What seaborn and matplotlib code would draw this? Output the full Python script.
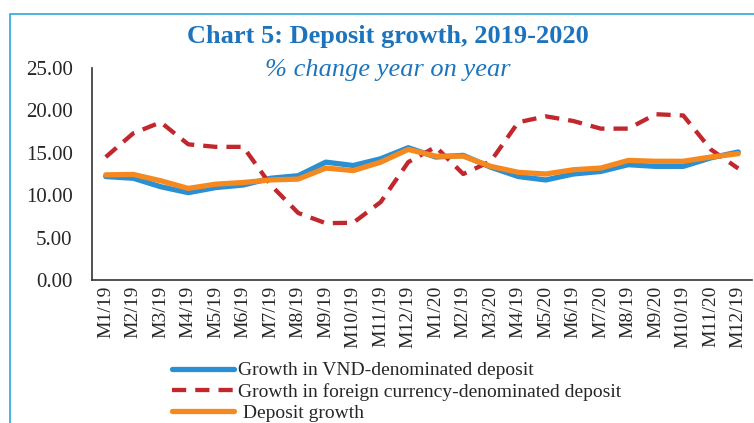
#!/usr/bin/env python3
import numpy as np
import pandas as pd
import seaborn as sns
import matplotlib.pyplot as plt
from matplotlib.patches import Rectangle
from matplotlib.ticker import FixedLocator

# month labels as printed on the source chart (including its typos)
months = ["M1/19", "M2/19", "M3/19", "M4/19", "M5/19", "M6/19", "M7/19", "M8/19",
          "M9/19", "M10/19", "M11/19", "M12/19", "M1/20", "M2/19", "M3/20", "M4/19",
          "M5/20", "M6/19", "M7/20", "M8/19", "M9/20", "M10/19", "M11/20", "M12/19"]

vnd_growth = [12.2, 12.0, 11.0, 10.3, 10.9, 11.2, 12.0, 12.3, 13.9, 13.5, 14.3, 15.6,
              14.5, 14.7, 13.3, 12.2, 11.8, 12.5, 12.8, 13.6, 13.4, 13.4, 14.4, 15.1]
fx_growth = [14.5, 17.3, 18.6, 16.0, 15.7, 15.7, 11.2, 7.9, 6.7, 6.75, 9.2, 13.9,
             15.7, 12.5, 14.0, 18.6, 19.3, 18.75, 17.85, 17.85, 19.55, 19.4, 15.4, 13.15]
total_growth = [12.4, 12.45, 11.7, 10.8, 11.3, 11.5, 11.8, 11.9, 13.2, 12.9, 13.9, 15.4,
                14.6, 14.6, 13.4, 12.7, 12.5, 13.0, 13.2, 14.1, 14.0, 14.0, 14.5, 14.9]

series_names = ["Growth in VND-denominated deposit",
                "Growth in foreign currency-denominated deposit",
                " Deposit growth"]

df = pd.DataFrame({
    "pos": np.arange(len(months)),
    series_names[0]: vnd_growth,
    series_names[1]: fx_growth,
    series_names[2]: total_growth,
})

sns.set_theme(style="white")
plt.rcParams["font.family"] = ["Liberation Serif", "DejaVu Serif"]

fig = plt.figure(figsize=(7.54, 4.23), dpi=100)
ax = fig.add_axes([92 / 754, 1 - 280 / 423, 660 / 754, 212 / 423])

sns.lineplot(data=df, x="pos", y=series_names[0], ax=ax, color="#2A8FD3",
             linewidth=3.8, label=series_names[0])
sns.lineplot(data=df, x="pos", y=series_names[1], ax=ax, color="#C1272D",
             linewidth=3.1, label=series_names[1])
ax.lines[-1].set_dashes([3.3, 2.1])
sns.lineplot(data=df, x="pos", y=series_names[2], ax=ax, color="#F5891F",
             linewidth=3.8, label=series_names[2])

ax.set_xlim(-0.5, len(months) - 0.5)
ax.set_ylim(0, 25)
ax.set_yticks([0, 5, 10, 15, 20, 25])
ax.set_yticklabels([f"{v:.2f}" for v in [0, 5, 10, 15, 20, 25]], fontsize=15)
ax.xaxis.set_major_locator(FixedLocator(np.arange(-0.5, len(months), 1.0)))
ax.xaxis.set_minor_locator(FixedLocator(np.arange(len(months))))
ax.set_xticklabels([], minor=False)
ax.set_xticklabels(months, minor=True, rotation=90, fontsize=14)
ax.tick_params(axis="x", which="major", direction="out", length=4, width=1, color="#333333")
ax.tick_params(axis="x", which="minor", length=0, pad=4)
ax.tick_params(axis="y", direction="out", length=4, width=1, color="#333333", pad=10)
ax.set_xlabel("")
ax.set_ylabel("")
for side in ["top", "right"]:
    ax.spines[side].set_visible(False)
for side in ["left", "bottom"]:
    ax.spines[side].set_color("#333333")
    ax.spines[side].set_linewidth(1.2)

ax.get_legend().remove()
handles, labels = ax.get_legend_handles_labels()
fig.legend(handles, labels, loc="upper left", bbox_to_anchor=(162 / 754, 1 - 352 / 423),
           frameon=False, fontsize=14, handlelength=3.2, handletextpad=0.2,
           labelspacing=0.18, borderpad=0)

title_blue = "#1D74BC"
fig.text(388 / 754, 1 - 37 / 423, "Chart 5: Deposit growth, 2019-2020", ha="center",
         va="center", fontsize=19, fontweight="bold", color=title_blue)
fig.text(388 / 754, 1 - 70 / 423, "% change year on year", ha="center", va="center",
         fontsize=19, style="italic", color=title_blue)

fig.patches.append(Rectangle((10 / 754, -0.1), 1.2, 1.1 - 14.5 / 423, transform=fig.transFigure,
                             fill=False, edgecolor="#2CA6E0", linewidth=1.2))

fig.savefig("out.png", dpi=100)
